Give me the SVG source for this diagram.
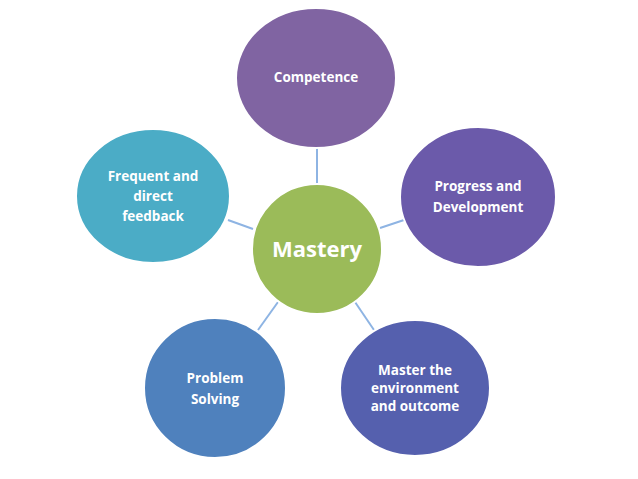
<svg xmlns="http://www.w3.org/2000/svg" width="638" height="479" viewBox="0 0 638 479">
<style>
.c{stroke:#fff;stroke-width:2}
.t{font-family:"Open Sans","Liberation Sans",sans-serif;font-weight:bold;font-size:13.5px;fill:#fff;text-anchor:middle}
.l{stroke:#8EB4E3;stroke-width:2}
</style>
<rect width="638" height="479" fill="#fff"/>
<g id="connectors">
<line class="l" x1="317" y1="148" x2="317" y2="184"/>
<line class="l" x1="380" y1="228" x2="404" y2="220"/>
<line class="l" x1="355" y1="302" x2="374" y2="330"/>
<line class="l" x1="278" y1="302" x2="258" y2="330"/>
<line class="l" x1="253" y1="229" x2="228" y2="220"/>
</g>
<g id="competence"><ellipse class="c" cx="316" cy="78" rx="80" ry="70" fill="#8064A2"/><text class="t" x="316" y="82">Competence</text></g>
<g id="progress"><ellipse class="c" cx="478" cy="197" rx="78" ry="70" fill="#6B5AAA"/><text class="t" x="478" y="191">Progress and</text><text class="t" x="478" y="212">Development</text></g>
<g id="master"><ellipse class="c" cx="415" cy="388" rx="75" ry="68" fill="#5560AE"/><text class="t" x="415" y="375">Master the</text><text class="t" x="415" y="393">environment</text><text class="t" x="415" y="411">and outcome</text></g>
<g id="problem"><ellipse class="c" cx="215" cy="388" rx="71" ry="70" fill="#4F81BD"/><text class="t" x="215" y="383">Problem</text><text class="t" x="215" y="404">Solving</text></g>
<g id="frequent"><ellipse class="c" cx="153" cy="196" rx="77" ry="67" fill="#4BACC6"/><text class="t" x="153" y="181">Frequent and</text><text class="t" x="153" y="201">direct</text><text class="t" x="153" y="221">feedback</text></g>
<g id="mastery"><circle class="c" cx="317" cy="249" r="65" fill="#9BBB59"/><text class="t" x="317" y="257" style="font-size:22px">Mastery</text></g>
</svg>
